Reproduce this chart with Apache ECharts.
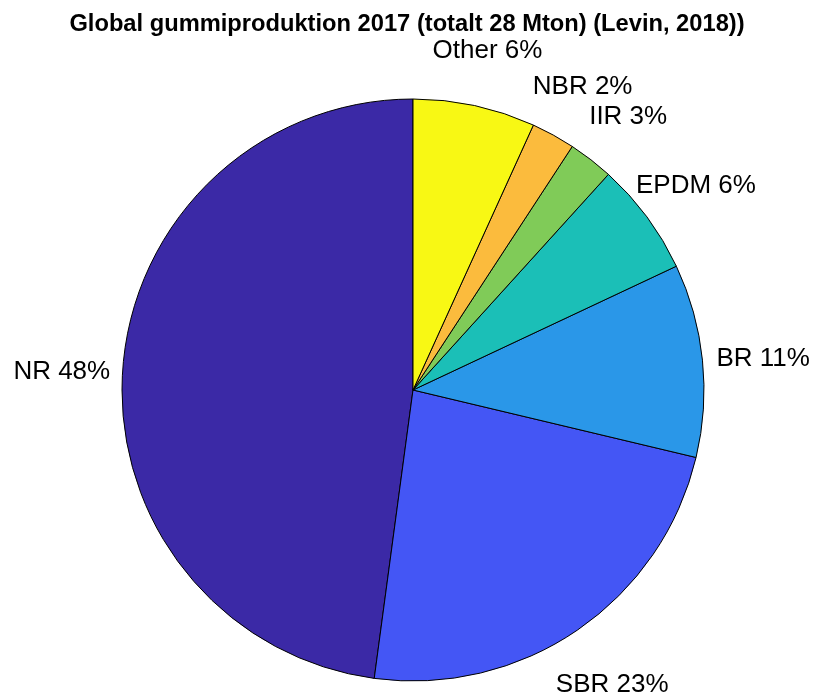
<!DOCTYPE html>
<html>
<head>
<meta charset="utf-8">
<script src="https://cdn.jsdelivr.net/npm/echarts@6/dist/echarts.min.js"></script>
<style>
  html, body { margin: 0; padding: 0; background: #fff; }
  #chart { width: 814px; height: 700px; }
</style>
</head>
<body>
<div id="chart"></div>
<script>
// rubber types, counter-clockwise from 12 o'clock
var names = ['NR', 'SBR', 'BR', 'EPDM', 'IIR', 'NBR', 'Other'];
// Mton (total ~28)
var values = [13.4, 6.55, 3.0, 1.76, 0.7, 0.68, 1.9];
// percentages as printed on the labels
var pctLabels = [48, 23, 11, 6, 3, 2, 6];
var colors = ['#3b29a6', '#4456f5', '#2a97e8', '#1bbfb7', '#80cb58', '#fbbb3d', '#f8f814'];

var pieData = names.map(function (n, i) {
  return { name: n, value: values[i], itemStyle: { color: colors[i] } };
});

var chart = echarts.init(document.getElementById('chart'));
var option = {
  animation: false,
  title: {
    text: 'Global gummiproduktion 2017 (totalt 28 Mton) (Levin, 2018))',
    left: 'center',
    top: 7,
    textStyle: { fontFamily: 'Liberation Sans, Arial', fontWeight: 'bold', fontSize: 23.7, color: '#000' }
  },
  series: [
    {
      type: 'pie',
      center: [413, 390],
      radius: [0, 291],
      startAngle: 90,
      clockwise: false,
      silent: true,
      label: { show: false },
      labelLine: { show: false },
      itemStyle: { borderColor: '#000', borderWidth: 1 },
      data: pieData
    },
    {
      // invisible ring used only to centre the labels at 1.2 R
      type: 'pie',
      center: [413, 390],
      radius: [291, 407],
      startAngle: 90,
      clockwise: false,
      silent: true,
      itemStyle: { color: 'rgba(0,0,0,0)', borderWidth: 0 },
      label: {
        show: true,
        position: 'inside',
        offset: [0, 5],
        fontFamily: 'Liberation Sans, Arial',
        fontSize: 26,
        color: '#000',
        formatter: function (p) { return p.name + ' ' + pctLabels[p.dataIndex] + '%'; }
      },
      labelLine: { show: false },
      data: names.map(function (n, i) { return { name: n, value: values[i] }; })
    }
  ]
};
chart.setOption(option);
</script>
</body>
</html>
